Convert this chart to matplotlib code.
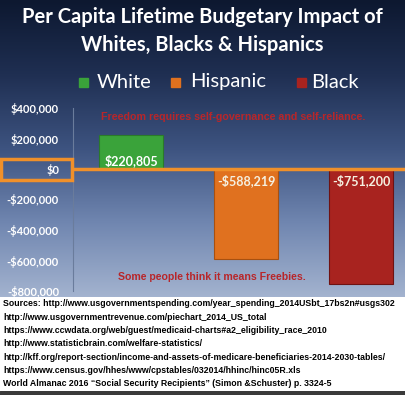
import matplotlib
matplotlib.use("Agg")
import matplotlib.pyplot as plt
import numpy as np
from matplotlib.colors import LinearSegmentedColormap
from matplotlib.patches import Rectangle

# data
groups = ["White", "Hispanic", "Black"]
impact = [220805, -588219, -751200]
bar_labels = ["$220,805", "-$588,219", "-$751,200"]
bar_colors = ["#3aa33a", "#e0711f", "#a8231f"]
yticks = [400000, 200000, 0, -200000, -400000, -600000, -800000]
ytick_labels = ["$400,000", "$200,000", "$0", "-$200,000", "-$400,000", "-$600,000", "-$800,000"]
sources = [
    "Sources: http://www.usgovernmentspending.com/year_spending_2014USbt_17bs2n#usgs302",
    "http://www.usgovernmentrevenue.com/piechart_2014_US_total",
    "https://www.ccwdata.org/web/guest/medicaid-charts#a2_eligibility_race_2010",
    "http://www.statisticbrain.com/welfare-statistics/",
    "http://kff.org/report-section/income-and-assets-of-medicare-beneficiaries-2014-2030-tables/",
    "https://www.census.gov/hhes/www/cpstables/032014/hhinc/hinc05R.xls",
    "World Almanac 2016 \u201cSocial Security Recipients\u201d (Simon &Schuster) p. 3324-5",
]

W, H = 405, 395
fig = plt.figure(figsize=(W / 100, H / 100), dpi=100)
fig.patch.set_facecolor("white")

def fx(px):
    return px / W

def fy(py):
    return 1 - py / H

# gradient background for the chart panel
bg = fig.add_axes([0, fy(297), 1, 1 - fy(297)])
bg.set_axis_off()
grad = LinearSegmentedColormap.from_list("bg", ["#0d1830", "#1f2f52", "#3d5380", "#7086b0", "#a3b3cf"])
bg.imshow(np.linspace(0, 1, 256).reshape(-1, 1), cmap=grad, aspect="auto", extent=[0, 1, 0, 1])

# dark strip at the very bottom
strip = fig.add_axes([0, 0, 1, fy(391)])
strip.set_axis_off()
strip.add_patch(Rectangle((0, 0), 1, 1, color="#3a3a3a", transform=strip.transAxes))

ax = fig.add_axes([fx(73), fy(291), fx(405 - 73), fy(108) - fy(291)])
ax.patch.set_alpha(0)
x = np.arange(len(groups))
ax.bar(x, impact, width=0.56, color=bar_colors, edgecolor=["#2a7a2a", "#a85010", "#6e1212"], linewidth=0.8, zorder=2)
ax.axhline(0, color="#f0902a", lw=2.5, zorder=3)
ax.set_xlim(-0.505, 2.38)
ax.set_ylim(-800000, 400000)
ax.set_yticks(yticks)
ax.set_yticklabels(ytick_labels, color="white", fontsize=8, fontweight="bold", family="Lato")
ax.set_xticks([])
ax.tick_params(axis="y", length=0, pad=10)
for s in ["top", "right", "bottom"]:
    ax.spines[s].set_visible(False)
ax.spines["left"].set_color("#6a7c9c")
ax.spines["left"].set_linewidth(0.8)

for i, (v, lab) in enumerate(zip(impact, bar_labels)):
    if v > 0:
        ax.text(i, 15000, lab, ha="center", va="bottom", color="white", fontsize=9, fontweight="bold", family="Lato", zorder=4)
    else:
        ax.text(i, -35000, lab, ha="center", va="top", color="#f5f0e0", fontsize=9, fontweight="bold", family="Lato", zorder=4)

# orange box around $0 label
fig.add_artist(Rectangle((fx(1), fy(180)), fx(71), fy(159) - fy(180), fill=False, edgecolor="#f0902a", lw=2.5))

narrow = ["Liberation Sans Narrow", "Liberation Sans", "DejaVu Sans"]
fig.text(fx(233), fy(117), "Freedom requires self-governance and self-reliance.", ha="center", va="center",
         color="#b8262a", fontsize=7.7, fontweight="bold", family=narrow)
fig.text(fx(212), fy(277), "Some people think it means Freebies.", ha="center", va="center",
         color="#b8262a", fontsize=7.6, fontweight="bold", family=narrow)

# title
fig.text(0.5, fy(17), "Per Capita Lifetime Budgetary Impact of", ha="center", va="center",
         color="white", fontsize=14.5, fontweight="bold", family="Lato")
fig.text(0.5, fy(45), "Whites, Blacks & Hispanics", ha="center", va="center",
         color="white", fontsize=14.5, fontweight="bold", family="Lato")

# legend
leg_sq = [79, 171, 297]
leg_txt = [97, 190, 311]
for g, c, sx, tx in zip(groups, bar_colors, leg_sq, leg_txt):
    fig.add_artist(Rectangle((fx(sx), fy(87)), fx(9), fy(78) - fy(87), color=c))
    fig.text(fx(tx), fy(82), g, ha="left", va="center", color="white", fontsize=14.5, family="Lato")

# sources
for k, line in enumerate(sources):
    fig.text(fx(3), fy(304 + k * 13.3), line, ha="left", va="center", color="black",
             fontsize=6.3, fontweight="bold", family=narrow)

fig.savefig("out.png", dpi=100)
